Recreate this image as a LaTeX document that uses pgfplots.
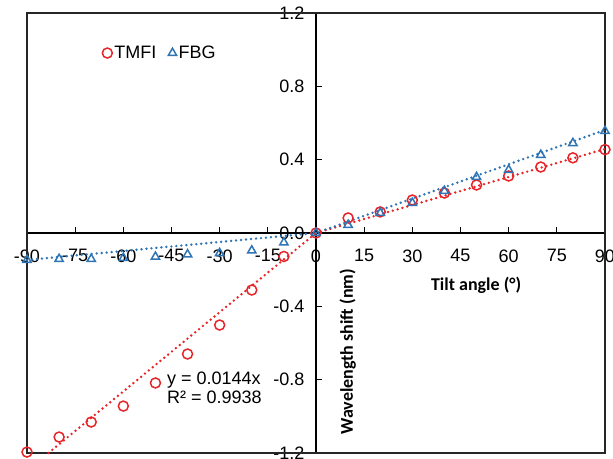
\documentclass[border=0pt]{standalone}
\usepackage{pgfplots}
\pgfplotsset{compat=1.18}
\usepackage{fontspec}
\setmainfont{Liberation Sans}
\newfontfamily\calibri{Carlito}
\definecolor{tred}{RGB}{232,36,40}
\definecolor{tblue}{RGB}{46,117,182}
\begin{document}
\begin{tikzpicture}
\useasboundingbox (0,0) rectangle (613pt,458pt);
\begin{axis}[
  at={(27pt,5pt)}, anchor=south west,
  scale only axis, width=578pt, height=440pt,
  xmin=-90, xmax=90, ymin=-1.2, ymax=1.2,
  axis lines=middle,
  axis line style={line width=1.4pt, -},
  clip=false,
  xtick={-90,-75,-60,-45,-30,-15,0,15,30,45,60,75,90},
  ytick={-1.2,-0.8,-0.4,0,0.4,0.8,1.2},
  hide obscured x ticks=false, hide obscured y ticks=false,
  tick align=inside, major tick length=6pt,
  tick style={line width=1.2pt, black},
  /pgf/number format/assume math mode=true,
  ticklabel style={font=\fontsize{18}{20}\selectfont},
  yticklabel style={/pgf/number format/.cd, fixed, fixed zerofill, precision=1, /tikz/.cd, xshift=-8pt},
  xticklabel style={/pgf/number format/.cd, fixed, precision=0, /tikz/.cd, yshift=-13pt},
  legend style={draw=none, fill=none, at={(rel axis cs:0.13,0.909)}, anchor=west,
    font=\fontsize{18}{20}\selectfont, inner sep=0pt,
    nodes={inner xsep=2pt},
    /tikz/every even column/.append style={column sep=10pt}},
  legend columns=2,
  legend image code/.code={\draw[#1] plot coordinates {(0pt,0pt)};},
]
\draw[line width=1.4pt, black!85] (rel axis cs:0,0) rectangle (rel axis cs:1,1);
% trendlines
\addplot[forget plot, tred, line width=2.7pt, line cap=round, dash pattern=on 0pt off 5pt] coordinates {(-83.33,-1.2) (0,0)};
\addplot[forget plot, tred, line width=2.7pt, line cap=round, dash pattern=on 0pt off 5pt] coordinates {(0,0) (90,0.458)};
\addplot[forget plot, tblue, line width=2.7pt, line cap=round, dash pattern=on 0pt off 5pt] coordinates {(-90,-0.147) (0,0)};
\addplot[forget plot, tblue, line width=2.7pt, line cap=round, dash pattern=on 0pt off 5pt] coordinates {(0,0) (90,0.562)};
% data
\addplot[only marks, mark=o, mark size=5pt, tred, mark options={line width=1.5pt}] coordinates {
(-90,-1.195) (-80,-1.113) (-70,-1.031) (-60,-0.944) (-50,-0.818) (-40,-0.660) (-30,-0.502)
(-20,-0.311) (-10,-0.128) (0,0) (10,0.082) (20,0.115) (30,0.180) (40,0.218) (50,0.262)
(60,0.311) (70,0.360) (80,0.410) (90,0.455)};
\addlegendentry{TMFI}
\addplot[only marks, mark=triangle, mark size=4.8pt, tblue, mark options={line width=1.5pt}] coordinates {
(-90,-0.147) (-80,-0.142) (-70,-0.142) (-60,-0.136) (-50,-0.130) (-40,-0.117) (-30,-0.110)
(-20,-0.096) (-10,-0.052) (0,0) (10,0.044) (20,0.109) (30,0.164) (40,0.229) (50,0.305)
(60,0.344) (70,0.426) (80,0.490) (90,0.556)};
\addlegendentry{FBG}
\node[anchor=west, align=left, font=\fontsize{18}{19}\selectfont, inner sep=0pt] at (rel axis cs:0.242,0.148) {y = 0.0144x\\R² = 0.9938};
\node[rotate=90, font=\calibri\bfseries\fontsize{18}{20}\selectfont, inner sep=0pt] at (rel axis cs:0.555,0.23) {Wavelength shift (nm)};
\node[font=\calibri\bfseries\fontsize{18}{20}\selectfont, inner sep=0pt] at (rel axis cs:0.777,0.382) {Tilt angle (°)};
\end{axis}
\end{tikzpicture}
\end{document}
